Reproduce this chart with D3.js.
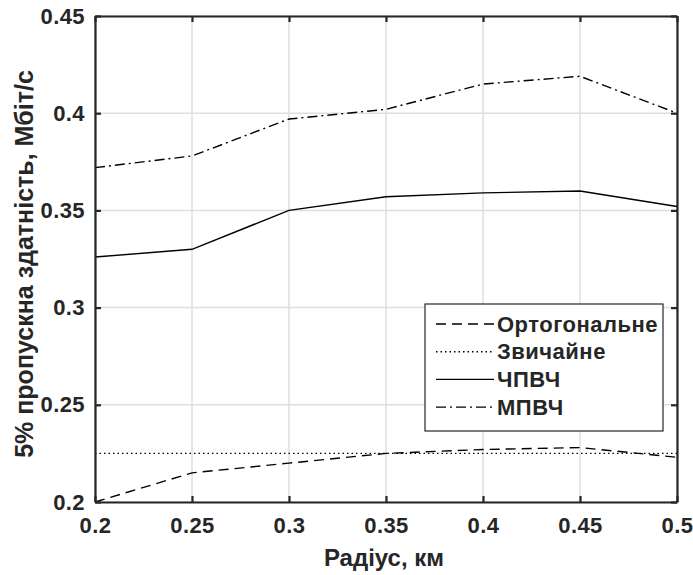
<!DOCTYPE html>
<html>
<head>
<meta charset="utf-8">
<script src="https://cdn.jsdelivr.net/npm/d3@7"></script>
<style>
  body { margin: 0; background: #fff; }
  text { font-family: "Liberation Sans", Arial, sans-serif; font-weight: bold; fill: #262626; }
</style>
</head>
<body>
<div id="chart"></div>
<script>
var radius = [0.2, 0.25, 0.3, 0.35, 0.4, 0.45, 0.5];
var ortho = [0.200, 0.215, 0.220, 0.225, 0.227, 0.228, 0.223];
var usual = [0.225, 0.225, 0.225, 0.225, 0.225, 0.225, 0.225];
var chpvch = [0.326, 0.330, 0.350, 0.357, 0.359, 0.360, 0.352];
var mpvch = [0.372, 0.378, 0.397, 0.402, 0.415, 0.419, 0.400];
var xTicks = [0.2, 0.25, 0.3, 0.35, 0.4, 0.45, 0.5];
var yTicks = [0.2, 0.25, 0.3, 0.35, 0.4, 0.45];

var series = [
  { name: "Ортогональне", values: ortho, dash: "10,6" },
  { name: "Звичайне", values: usual, dash: "1.5,3" },
  { name: "ЧПВЧ", values: chpvch, dash: null },
  { name: "МПВЧ", values: mpvch, dash: "10,4,2,4" }
];

const W = 693, H = 575;
const margin = { top: 16, right: 16, bottom: 73, left: 95 };
const innerWidth = W - margin.left - margin.right;
const innerHeight = H - margin.top - margin.bottom;

var svg = d3.select("#chart").append("svg")
  .attr("width", W)
  .attr("height", H);

var g = svg.append("g")
  .attr("transform", "translate(" + margin.left + "," + margin.top + ")");

const xScale = d3.scaleLinear().domain([0.2, 0.5]).range([0, innerWidth]);
const yScale = d3.scaleLinear().domain([0.2, 0.45]).range([innerHeight, 0]);

// grid
g.append("g").selectAll("line").data(xTicks).enter().append("line")
  .attr("x1", d => xScale(d)).attr("x2", d => xScale(d))
  .attr("y1", 0).attr("y2", innerHeight)
  .attr("stroke", "#dfdfdf").attr("stroke-width", 1.5);
g.append("g").selectAll("line").data(yTicks).enter().append("line")
  .attr("y1", d => yScale(d)).attr("y2", d => yScale(d))
  .attr("x1", 0).attr("x2", innerWidth)
  .attr("stroke", "#dfdfdf").attr("stroke-width", 1.5);

// lines
var line = d3.line()
  .x((d, i) => xScale(radius[i]))
  .y(d => yScale(d));

series.forEach(function (s) {
  g.append("path")
    .datum(s.values)
    .attr("d", line)
    .attr("fill", "none")
    .attr("stroke", "#000")
    .attr("stroke-width", 1.4)
    .attr("stroke-dasharray", s.dash);
});

// axes
var fmt = d => String(+d.toFixed(2));
var xAxis = d3.axisBottom(xScale).tickValues(xTicks).tickFormat(fmt).tickSizeInner(-6).tickSizeOuter(0).tickPadding(15);
var yAxis = d3.axisLeft(yScale).tickValues(yTicks).tickFormat(fmt).tickSizeInner(-6).tickSizeOuter(0).tickPadding(10);
var xAxisTop = d3.axisTop(xScale).tickValues(xTicks).tickSizeInner(-6).tickSizeOuter(0);
var yAxisRight = d3.axisRight(yScale).tickValues(yTicks).tickSizeInner(-6).tickSizeOuter(0);

function styleAxis(sel) {
  sel.selectAll("path").attr("stroke", "#262626").attr("stroke-width", 2.2);
  sel.selectAll("line").attr("stroke", "#262626").attr("stroke-width", 2.2);
  sel.selectAll("text").style("font-family", "Liberation Sans, Arial, sans-serif")
    .style("font-weight", "bold").style("font-size", "22px")
    .style("letter-spacing", "0.4px").attr("fill", "#262626");
}

g.append("g").attr("transform", "translate(0," + innerHeight + ")").call(xAxis).call(styleAxis);
g.append("g").call(yAxis).call(styleAxis);
g.append("g").call(xAxisTop).call(styleAxis).selectAll("text").remove();
g.append("g").attr("transform", "translate(" + innerWidth + ",0)").call(yAxisRight).call(styleAxis).selectAll("text").remove();

// axis titles
svg.append("text")
  .attr("x", 384)
  .attr("y", 566)
  .attr("text-anchor", "middle")
  .style("font-size", "24px")
  .text("Радіус, км");

svg.append("text")
  .attr("transform", "translate(33,264) rotate(-90)")
  .attr("text-anchor", "middle")
  .style("font-size", "25px")
  .text("5% пропускна здатність, Мбіт/с");

// legend
var legend = svg.append("g").attr("transform", "translate(425,304)");
legend.append("rect")
  .attr("width", 238).attr("height", 127)
  .attr("fill", "#fff").attr("stroke", "#262626").attr("stroke-width", 1.2);

series.forEach(function (s, i) {
  var y = 20 + i * 27.7;
  legend.append("line")
    .attr("x1", 11).attr("x2", 69)
    .attr("y1", y).attr("y2", y)
    .attr("stroke", "#000").attr("stroke-width", 1.4)
    .attr("stroke-dasharray", s.dash);
  legend.append("text")
    .attr("x", 72).attr("y", y)
    .attr("dy", "0.35em")
    .style("font-size", "22px")
    .style("letter-spacing", "0.5px")
    .text(s.name);
});
</script>
</body>
</html>
